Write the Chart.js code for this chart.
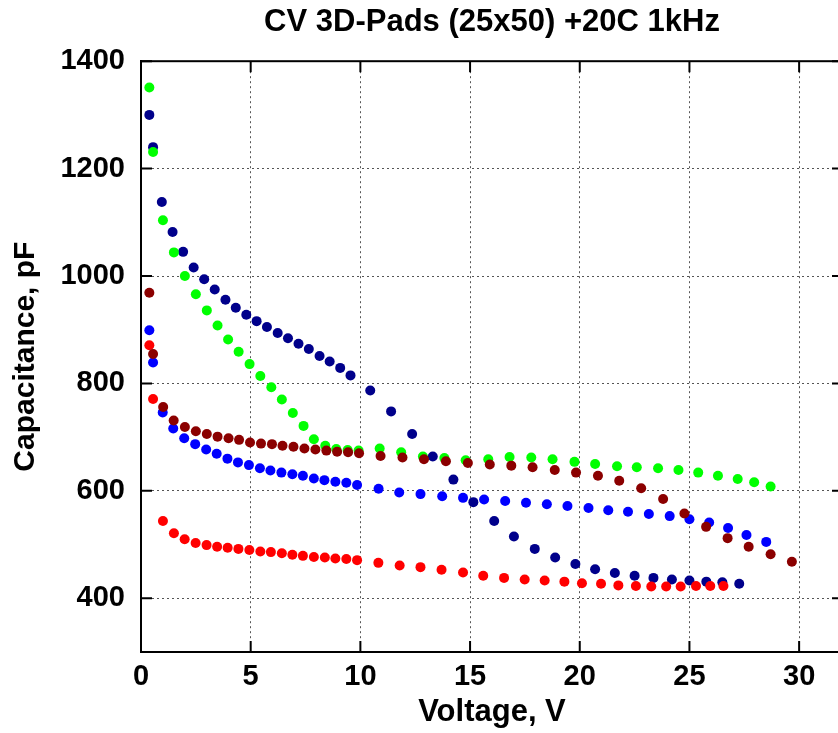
<!DOCTYPE html>
<html>
<head>
<meta charset="utf-8">
<script src="https://cdn.jsdelivr.net/npm/chart.js@4"></script>
<style>
  html, body { margin: 0; padding: 0; background: #fff; overflow: hidden; }
  #wrap { position: absolute; left: 0; top: 0; width: 848px; height: 733px; }
</style>
</head>
<body>
<div id="wrap"><canvas id="out"></canvas></div>
<script>
// values (voltage in V, capacitance in pF)
const xTicks = [0, 5, 10, 15, 20, 25, 30];
const yTicks = [400, 600, 800, 1000, 1200, 1400];

const navyV = [0.38, 0.55, 0.95, 1.44, 1.92, 2.4, 2.88, 3.36, 3.85, 4.32, 4.8, 5.27, 5.74, 6.23, 6.7, 7.18, 7.65, 8.14, 8.6, 9.08, 9.55, 10.45, 11.4, 12.36, 13.3, 14.24, 15.15, 16.1, 17.0, 17.95, 18.88, 19.8, 20.7, 21.6, 22.5, 23.36, 24.2, 25.0, 25.77, 26.5, 27.27];
const navyC = [1300, 1240, 1138, 1082, 1045, 1016, 994, 975, 956, 941, 928, 916, 905, 894, 884, 874, 864, 851, 841, 829, 815, 787, 748, 706, 664, 621, 579, 544, 515, 492, 476, 464, 454, 447, 442, 438, 435, 433, 431, 430, 427];

const greenV = [0.38, 0.55, 1.0, 1.5, 2.0, 2.5, 3.0, 3.49, 3.97, 4.45, 4.95, 5.44, 5.94, 6.42, 6.92, 7.41, 7.88, 8.4, 8.9, 9.42, 9.92, 10.88, 11.86, 12.85, 13.83, 14.8, 15.83, 16.8, 17.79, 18.76, 19.76, 20.7, 21.7, 22.6, 23.57, 24.5, 25.4, 26.3, 27.2, 27.95, 28.7];
const greenC = [1351, 1231, 1104, 1044, 1000, 966, 936, 908, 882, 859, 836, 814, 793, 770, 745, 721, 696, 684, 678, 676, 675, 679, 672, 664, 661, 657, 659, 663, 662, 659, 654, 650, 646, 644, 642, 639, 634, 628, 622, 616, 608];

const darkRedV = [0.38, 0.55, 1.01, 1.49, 2.0, 2.5, 3.0, 3.49, 3.99, 4.47, 4.97, 5.47, 5.97, 6.45, 6.95, 7.45, 7.95, 8.45, 8.94, 9.44, 9.94, 10.92, 11.92, 12.9, 13.9, 14.9, 15.9, 16.88, 17.85, 18.86, 19.83, 20.83, 21.8, 22.8, 23.8, 24.77, 25.76, 26.74, 27.7, 28.7, 29.67];
const darkRedC = [969, 855, 756, 731, 719, 711, 706, 701, 698, 695, 690, 688, 687, 684, 682, 679, 677, 675, 673, 672, 670, 665, 662, 659, 655, 652, 649, 647, 644, 639, 634, 628, 619, 605, 585, 558, 533, 512, 496, 482, 468];

const blueV = [0.38, 0.55, 0.99, 1.47, 1.97, 2.47, 2.97, 3.45, 3.94, 4.42, 4.92, 5.42, 5.9, 6.4, 6.9, 7.38, 7.88, 8.36, 8.86, 9.36, 9.85, 10.83, 11.77, 12.74, 13.73, 14.68, 15.64, 16.6, 17.55, 18.5, 19.44, 20.4, 21.3, 22.2, 23.15, 24.1, 25.0, 25.9, 26.76, 27.6, 28.5];
const blueC = [899, 839, 746, 716, 698, 687, 677, 669, 660, 653, 648, 642, 638, 634, 631, 628, 623, 620, 617, 615, 611, 604, 597, 594, 590, 587, 584, 581, 578, 575, 572, 568, 564, 561, 557, 553, 547, 541, 531, 518, 505];

const redV = [0.38, 0.55, 1.0, 1.5, 1.99, 2.49, 2.99, 3.47, 3.95, 4.44, 4.94, 5.44, 5.92, 6.42, 6.9, 7.38, 7.88, 8.38, 8.86, 9.36, 9.85, 10.82, 11.79, 12.74, 13.7, 14.68, 15.6, 16.55, 17.49, 18.4, 19.3, 20.1, 20.97, 21.76, 22.56, 23.26, 23.94, 24.6, 25.3, 25.95, 26.55];
const redC = [871, 771, 544, 521, 510, 503, 499, 496, 494, 492, 490, 487, 486, 484, 481, 479, 477, 476, 474, 473, 471, 466, 461, 458, 453, 448, 442, 438, 435, 433, 431, 428, 427, 424, 423, 422, 422, 422, 423, 423, 423];

function pts(xs, ys) {
  return xs.map((x, i) => ({ x: x, y: ys[i] }));
}

function series(color, xs, ys) {
  return {
    data: pts(xs, ys),
    backgroundColor: color,
    borderWidth: 0,
    pointRadius: 5,
    pointHoverRadius: 5,
    showLine: false
  };
}

const FONT = "'Liberation Sans', Arial, sans-serif";

// gnuplot style frame: top/right border and inward ticks
const framePlugin = {
  id: "frame",
  afterDraw(chart) {
    const ctx = chart.ctx;
    const a = chart.chartArea;
    const xs = chart.scales.x, ys = chart.scales.y;
    ctx.save();
    ctx.strokeStyle = "#000";
    ctx.lineWidth = 2;
    ctx.strokeRect(a.left, a.top, a.right - a.left, a.bottom - a.top);
    ctx.beginPath();
    xTicks.forEach(v => {
      const px = xs.getPixelForValue(v);
      ctx.moveTo(px, a.bottom); ctx.lineTo(px, a.bottom - 11);
      ctx.moveTo(px, a.top); ctx.lineTo(px, a.top + 11);
    });
    yTicks.forEach(v => {
      const py = ys.getPixelForValue(v);
      ctx.moveTo(a.left, py); ctx.lineTo(a.left + 11, py);
      ctx.moveTo(a.right, py); ctx.lineTo(a.right - 11, py);
    });
    ctx.stroke();
    ctx.restore();
  }
};

const plainNum = v => String(v);

const chartConfig = {
  type: "scatter",
  data: {
    datasets: [
      series("#8b0000", darkRedV, darkRedC),
      series("#ff0000", redV, redC),
      series("#00ff00", greenV, greenC),
      series("#00008b", navyV, navyC),
      series("#0000ff", blueV, blueC)
    ]
  },
  options: {
    responsive: true,
    maintainAspectRatio: false,
    animation: false,
    devicePixelRatio: 1,
    layout: { padding: { left: 0, right: 5, top: 0, bottom: 0 } },
    plugins: {
      legend: { display: false },
      tooltip: { enabled: false },
      title: {
        display: true,
        fullSize: false,
        text: "CV 3D-Pads (25x50) +20C 1kHz",
        color: "#000",
        font: { family: FONT, size: 31, weight: "bold" },
        padding: { top: 4, bottom: 20 }
      }
    },
    scales: {
      x: {
        type: "linear",
        min: 0,
        max: 32,
        afterFit(scale) { scale.height = 81; },
        ticks: {
          stepSize: 5,
          includeBounds: false,
          color: "#000",
          padding: 8,
          callback: plainNum,
          font: { family: FONT, size: 29, weight: "bold" }
        },
        grid: {
          color: "#555",
          lineWidth: 1,
          drawTicks: false
        },
        border: { display: true, color: "#000", width: 2, dash: [2, 3] },
        title: {
          display: true,
          text: "Voltage, V",
          color: "#000",
          font: { family: FONT, size: 31, weight: "bold" },
          padding: { top: 0, bottom: 2 }
        }
      },
      y: {
        type: "linear",
        min: 300,
        max: 1400,
        afterFit(scale) { scale.width = 141; },
        ticks: {
          stepSize: 200,
          includeBounds: false,
          color: "#000",
          padding: 16,
          callback: plainNum,
          font: { family: FONT, size: 29, weight: "bold" }
        },
        grid: {
          color: "#555",
          lineWidth: 1,
          drawTicks: false
        },
        border: { display: true, color: "#000", width: 2, dash: [2, 3] },
        title: {
          display: true,
          text: "Capacitance, pF",
          color: "#000",
          font: { family: FONT, size: 30, weight: "bold" },
          padding: { top: 8, bottom: 0 }
        }
      }
    }
  },
  plugins: [framePlugin]
};

const canvasCtx = document.getElementById("out").getContext("2d");
window.chart = new Chart(canvasCtx, chartConfig);
</script>
</body>
</html>
